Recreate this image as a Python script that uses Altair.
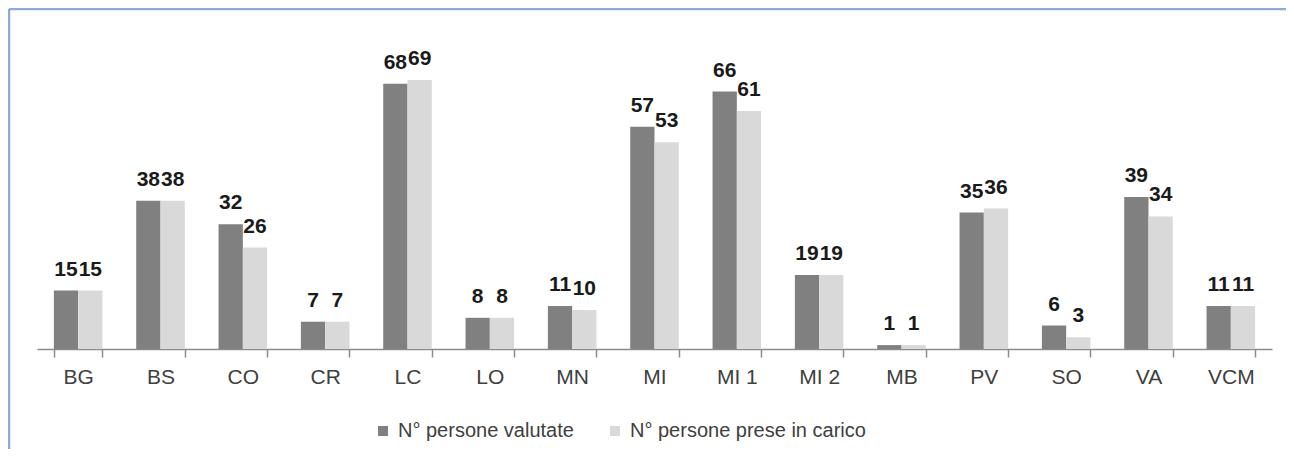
import altair as alt
import pandas as pd

categories = ["BG", "BS", "CO", "CR", "LC", "LO", "MN", "MI", "MI 1", "MI 2", "MB", "PV", "SO", "VA", "VCM"]
valutate = [15, 38, 32, 7, 68, 8, 11, 57, 66, 19, 1, 35, 6, 39, 11]
prese = [15, 38, 26, 7, 69, 8, 10, 53, 61, 19, 1, 36, 3, 34, 11]
series = ["N° persone valutate", "N° persone prese in carico"]
colors = ["#808080", "#D9D9D9"]

rows = []
for c, v, p in zip(categories, valutate, prese):
    rows.append({"cat": c, "serie": series[0], "val": v})
    rows.append({"cat": c, "serie": series[1], "val": p})
df = pd.DataFrame(rows)

W, H = 1235, 273
FONT = "Liberation Sans"

x = alt.X(
    "cat:N", sort=categories,
    scale=alt.Scale(paddingInner=0.41, paddingOuter=0.205),
    axis=alt.Axis(title=None, labelAngle=0, tickBand="extent", tickSize=8,
                  labelPadding=9, labelFont=FONT, labelFontSize=21,
                  labelColor="#404040", domainColor="#8c8c8c", tickColor="#8c8c8c",
                  domainWidth=1.5, tickWidth=1.5),
)
xo = alt.XOffset("serie:N", sort=series, scale=alt.Scale(domain=series, paddingInner=0, paddingOuter=0))
y = alt.Y("val:Q", scale=alt.Scale(domain=[0, 70], nice=False), axis=None)

base = alt.Chart(df).encode(x=x, xOffset=xo)

bars = base.mark_bar().encode(
    y=y,
    color=alt.Color(
        "serie:N", sort=series,
        scale=alt.Scale(domain=series, range=colors),
        legend=alt.Legend(title=None, orient="none", legendX=336, legendY=345,
                          direction="horizontal", columns=2, symbolType="square",
                          symbolSize=100, symbolStrokeWidth=0, labelFont=FONT,
                          labelFontSize=20, labelColor="#404040", labelOffset=5,
                          labelLimit=0, columnPadding=31),
    ),
)

labels = base.mark_text(
    font=FONT, fontSize=21, fontWeight="bold", color="#1a1a1a",
    baseline="alphabetic", dy=-15,
).encode(y=y, text="val:Q")

bd = pd.DataFrame({"k": [0]})
border_color = "#8EAAD6"
top = alt.Chart(bd).mark_rule(color=border_color, strokeWidth=2.5).encode(
    x=alt.value(-28), x2=alt.value(W + 30), y=alt.value(-67)
)
left = alt.Chart(bd).mark_rule(color=border_color, strokeWidth=2.5).encode(
    x=alt.value(-28), y=alt.value(-67), y2=alt.value(H + 130)
)

chart = alt.layer(bars, labels, top, left).properties(
    width=W, height=H,
    autosize=alt.AutoSizeParams(type="none"),
    padding={"left": 29, "top": 68, "right": 14, "bottom": 100},
    background="white",
).configure_view(stroke=None)

chart.save("out.html", embed_options={"renderer": "svg", "actions": False})
